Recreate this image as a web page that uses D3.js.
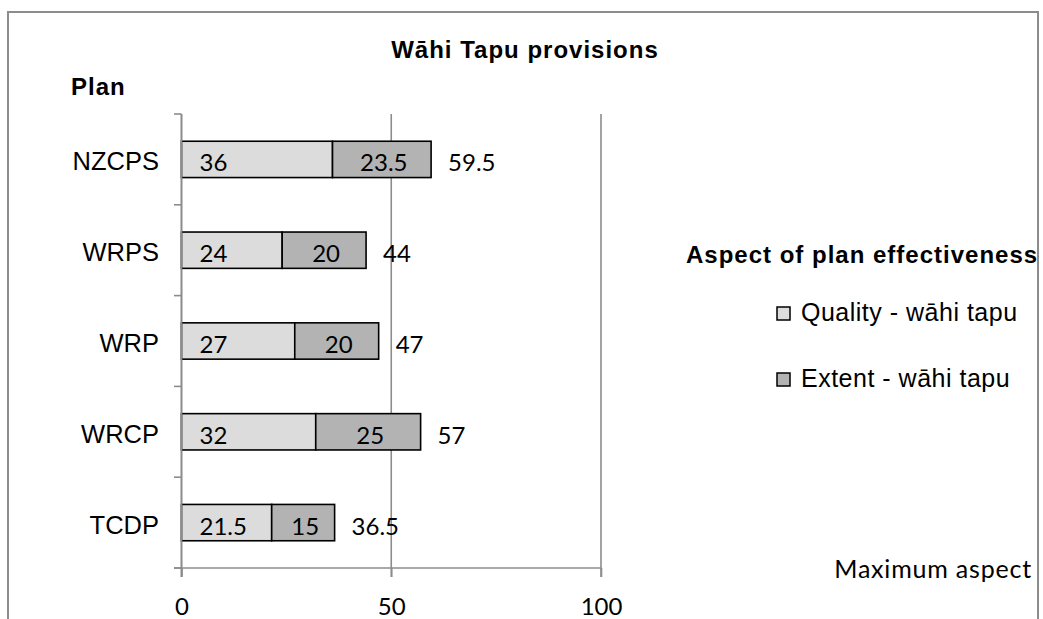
<!DOCTYPE html>
<html>
<head>
<meta charset="utf-8">
<script src="https://cdn.jsdelivr.net/npm/d3@7"></script>
<style>
  html, body { margin: 0; padding: 0; background: #fff; }
  svg { display: block; }
</style>
</head>
<body>
<svg id="chart" width="1043" height="619"></svg>
<script>
const categories = ["NZCPS", "WRPS", "WRP", "WRCP", "TCDP"];
const quality = [36, 24, 27, 32, 21.5];
const extent = [23.5, 20, 20, 25, 15];
const maximumAspect = [59.5, 44, 47, 57, 36.5];
const seriesNames = ["Quality - wāhi tapu", "Extent - wāhi tapu", "Maximum aspect"];
const xTicks = [0, 50, 100];
const titleText = "Wāhi Tapu provisions";
const yTitle = "Plan";
const legendTitle = "Aspect of plan effectiveness";

const svg = d3.select("#chart");
const W = 1043, H = 619;
svg.append("rect").attr("width", W).attr("height", H).attr("fill", "#fff");

const arial = "'Liberation Sans', Arial, sans-serif";
const calibri = "Lato, 'Open Sans', sans-serif";
const gridColor = "#8c8c8c";

const x = d3.scaleLinear().domain([0, 100]).range([181.5, 601]);
const y = d3.scaleBand().domain(categories).range([114, 568]).paddingInner(0.6).paddingOuter(0.3);

const data = categories.map((c, i) => ({ c, q: quality[i], e: extent[i], m: maximumAspect[i] }));

// gridlines
const gTop = 114, gBottom = 577;
svg.append("g").selectAll("line").data(xTicks.slice(1)).join("line")
  .attr("x1", d => x(d)).attr("x2", d => x(d))
  .attr("y1", gTop).attr("y2", gBottom)
  .attr("stroke", gridColor).attr("stroke-width", 1.6);

// x axis
const xAxis = d3.axisBottom(x).tickValues(xTicks).tickSize(9).tickSizeOuter(0).tickPadding(21);
const gx = svg.append("g").attr("transform", "translate(0,568)").call(xAxis);
gx.select(".domain").remove();
gx.append("line").attr("x1", 174).attr("x2", x(100)).attr("y1", 0).attr("y2", 0)
  .attr("stroke", gridColor).attr("stroke-width", 1.6);
gx.selectAll(".tick line").attr("stroke", gridColor).attr("stroke-width", 1.6);
gx.selectAll(".tick text").attr("font-family", calibri).attr("font-size", 24)
  .attr("fill", "#000").attr("dy", "0.71em");

// y axis line + ticks at band boundaries
svg.append("line").attr("x1", x(0)).attr("x2", x(0)).attr("y1", gTop).attr("y2", gBottom)
  .attr("stroke", gridColor).attr("stroke-width", 1.6);
const bandEdges = categories.map((c, i) => 114 + i * y.step()).concat([568]);
svg.append("g").selectAll("line").data(bandEdges).join("line")
  .attr("x1", 174).attr("x2", x(0))
  .attr("y1", d => d).attr("y2", d => d)
  .attr("stroke", gridColor).attr("stroke-width", 1.6);

// category labels
svg.append("g").selectAll("text").data(categories).join("text")
  .attr("x", 159).attr("y", d => y(d) + y.bandwidth() / 2 + 11)
  .attr("text-anchor", "end")
  .attr("font-family", arial).attr("font-size", 25.5).attr("fill", "#000")
  .text(d => d);

// bars
const qFill = "#dcdcdc", eFill = "#b3b3b3";
const bars = svg.append("g");
bars.selectAll("rect.q").data(data).join("rect").attr("class", "q")
  .attr("x", x(0)).attr("y", d => y(d.c))
  .attr("width", d => x(d.q) - x(0)).attr("height", y.bandwidth())
  .attr("fill", qFill).attr("stroke", "#000").attr("stroke-width", 1.6);
bars.selectAll("rect.e").data(data).join("rect").attr("class", "e")
  .attr("x", d => x(d.q)).attr("y", d => y(d.c))
  .attr("width", d => x(d.q + d.e) - x(d.q)).attr("height", y.bandwidth())
  .attr("fill", eFill).attr("stroke", "#000").attr("stroke-width", 1.6);
svg.append("line").attr("x1", x(0)).attr("x2", x(0)).attr("y1", gTop).attr("y2", gBottom)
  .attr("stroke", gridColor).attr("stroke-width", 1.6);

// data labels
const labels = svg.append("g").attr("font-family", calibri).attr("font-size", 24).attr("fill", "#000");
labels.selectAll("text.q").data(data).join("text").attr("class", "q")
  .attr("x", x(0) + 18).attr("y", d => y(d.c) + y.bandwidth() / 2 + 12)
  .text(d => d.q);
labels.selectAll("text.e").data(data).join("text").attr("class", "e")
  .attr("x", d => (x(d.q) + x(d.q + d.e)) / 2 + 2).attr("y", d => y(d.c) + y.bandwidth() / 2 + 12)
  .attr("text-anchor", "middle")
  .text(d => d.e);
labels.selectAll("text.m").data(data).join("text").attr("class", "m")
  .attr("x", d => x(d.q + d.e) + 17).attr("y", d => y(d.c) + y.bandwidth() / 2 + 12)
  .text(d => d.m);

// title
svg.append("text").attr("x", 525).attr("y", 58).attr("text-anchor", "middle")
  .attr("font-family", arial).attr("font-weight", "bold").attr("font-size", 24)
  .attr("letter-spacing", 1).text(titleText);
svg.append("text").attr("x", 71).attr("y", 95)
  .attr("font-family", arial).attr("font-weight", "bold").attr("font-size", 24)
  .attr("letter-spacing", 1).text(yTitle);

// legend
svg.append("text").attr("x", 686).attr("y", 263)
  .attr("font-family", arial).attr("font-weight", "bold").attr("font-size", 24)
  .attr("letter-spacing", 1).text(legendTitle);
const legendItems = [
  { name: seriesNames[0], fill: qFill, y: 321 },
  { name: seriesNames[1], fill: eFill, y: 387 }
];
const lg = svg.append("g").selectAll("g").data(legendItems).join("g");
lg.append("rect").attr("x", 777).attr("y", d => d.y - 14).attr("width", 13).attr("height", 13)
  .attr("fill", d => d.fill).attr("stroke", "#000").attr("stroke-width", 1.5);
lg.append("text").attr("x", 801).attr("y", d => d.y)
  .attr("font-family", arial).attr("font-size", 25).attr("letter-spacing", 0.5)
  .text(d => d.name);
svg.append("text").attr("x", 1032).attr("y", 578).attr("text-anchor", "end")
  .attr("font-family", calibri).attr("font-size", 25).attr("letter-spacing", 0.8)
  .text(seriesNames[2]);

// chart frame
svg.append("path").attr("d", "M8,619 L8,12 L1038,12 L1038,619")
  .attr("fill", "none").attr("stroke", gridColor).attr("stroke-width", 2);
</script>
</body>
</html>
